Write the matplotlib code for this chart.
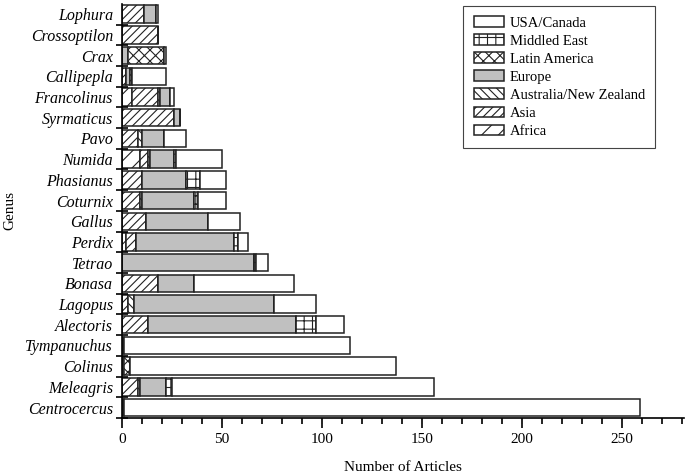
import matplotlib.pyplot as plt
from matplotlib.patches import Patch
from matplotlib.ticker import MultipleLocator, FixedLocator

plt.rcParams['font.family'] = ['Liberation Serif', 'DejaVu Serif']
plt.rcParams['hatch.linewidth'] = 0.8

genus = ['Lophura', 'Crossoptilon', 'Crax', 'Callipepla', 'Francolinus', 'Syrmaticus',
         'Pavo', 'Numida', 'Phasianus', 'Coturnix', 'Gallus', 'Perdix', 'Tetrao',
         'Bonasa', 'Lagopus', 'Alectoris', 'Tympanuchus', 'Colinus', 'Meleagris',
         'Centrocercus']

africa      = [0, 0, 0, 0, 5, 0, 0, 9, 0, 0, 0, 2, 0, 0, 0, 0, 0, 0, 0, 0]
asia        = [11, 18, 0, 2, 13, 26, 8, 4, 10, 9, 12, 5, 0, 18, 3, 13, 0, 0, 8, 0]
australia   = [0, 0, 0, 0, 1, 0, 2, 1, 0, 1, 0, 0, 0, 0, 3, 0, 0, 0, 1, 0]
europe      = [6, 0, 3, 2, 5, 3, 11, 12, 22, 26, 31, 49, 66, 18, 70, 74, 1, 1, 13, 1]
latin       = [0, 0, 18, 1, 0, 0, 0, 0, 0, 0, 0, 0, 0, 0, 0, 0, 0, 3, 0, 0]
middle_east = [0, 0, 0, 0, 0, 0, 0, 1, 7, 2, 0, 2, 1, 0, 0, 10, 0, 0, 3, 0]
usa         = [1, 0, 1, 17, 2, 0, 11, 23, 13, 14, 16, 5, 6, 50, 21, 14, 113, 133, 131, 258]

series = [
    ('Africa', africa, 'white', '//'),
    ('Asia', asia, 'white', '////'),
    ('Australia/New Zealand', australia, 'white', '\\\\\\\\'),
    ('Europe', europe, '#c0c0c0', None),
    ('Latin America', latin, 'white', 'xxx'),
    ('Middled East', middle_east, 'white', '++'),
    ('USA/Canada', usa, 'white', None),
]

fig = plt.figure(figsize=(6.85, 4.76), dpi=100)
ax = fig.add_axes([0.178, 0.122, 0.821, 0.870])

ypos = list(range(len(genus)))
left = [0] * len(genus)
handles = []
for name, vals, fc, hatch in series:
    ax.barh(ypos, vals, left=left, height=0.84, color=fc, edgecolor='#222222',
            linewidth=1.1, hatch=hatch)
    left = [a + b for a, b in zip(left, vals)]
    handles.append(Patch(facecolor=fc, edgecolor='#222222', linewidth=1.1,
                         hatch=hatch, label=name))

ax.set_ylim(len(genus) - 0.5, -0.5)
ax.set_xlim(0, 281)

ax.set_yticks(ypos)
ax.set_yticklabels(genus, style='italic', fontsize=11.5)
ax.yaxis.set_minor_locator(FixedLocator([i + 0.5 for i in range(len(genus))]))
ax.tick_params(axis='y', which='major', length=0, pad=6.5)
ax.tick_params(axis='y', which='minor', direction='inout', length=8, width=1.2)

ax.xaxis.set_major_locator(MultipleLocator(50))
ax.xaxis.set_minor_locator(MultipleLocator(10))
ax.tick_params(axis='x', which='major', direction='out', length=7, width=1.2, labelsize=11)
ax.tick_params(axis='x', which='minor', direction='out', length=4, width=1.2)

for s in ['top', 'right']:
    ax.spines[s].set_visible(False)
for s in ['left', 'bottom']:
    ax.spines[s].set_linewidth(1.2)

ax.set_xlabel('Number of Articles', fontsize=11, labelpad=11)
ax.set_ylabel('Genus', fontsize=11)
ax.yaxis.set_label_coords(-0.188, 0.5)

leg = ax.legend(handles=handles[::-1], loc='upper left', bbox_to_anchor=(0.607, 0.995),
                borderaxespad=0, fontsize=10.5, fancybox=False, framealpha=1,
                edgecolor='#444444', handlelength=2.1, handleheight=0.75,
                labelspacing=0.32, handletextpad=0.4, borderpad=0.7)
leg.get_frame().set_linewidth(0.8)

fig.savefig('out.png', dpi=100)
